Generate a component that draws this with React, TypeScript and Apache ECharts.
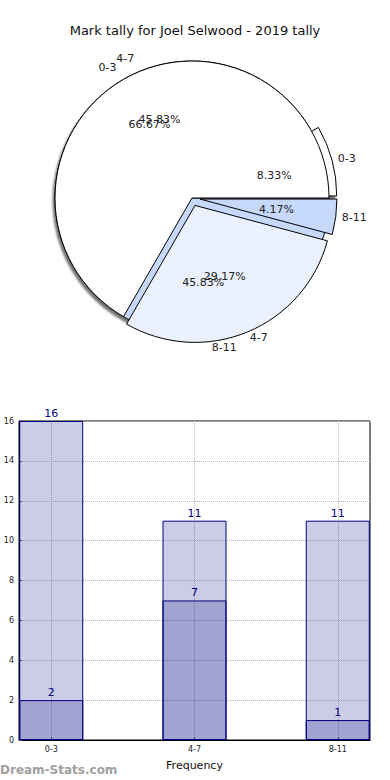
import React, { useEffect, useRef } from "react";
import * as echarts from "echarts";

const titleText = "Mark tally for Joel Selwood - 2019 tally";
const categories = ["0-3", "4-7", "8-11"];
const pieA = [16, 7, 1];
const pieB = [2, 11, 11];
const totalMarks = [16, 11, 11];
const subMarks = [2, 7, 1];
const yTicks = [0, 2, 4, 6, 8, 10, 12, 14, 16];

const FONT = "DejaVu Sans";
const PIE_C = [192, 198];
const R = 137;

export default function App() {
  const ref = useRef<HTMLDivElement>(null);
  useEffect(() => {
    const chart = echarts.init(ref.current!, null, { renderer: "svg" });
    const sumA = pieA.reduce((a, b) => a + b, 0);
    const sumB = pieB.reduce((a, b) => a + b, 0);
    const pct = (v: number, s: number) => ((v / s) * 100).toFixed(2) + "%";

    const colorsA = ["#ffffff", "#eaf1fd", "#c6d9fb"];
    const colorsB = ["#ffffff", "#ffffff", "#c6d9fb"];
    const explodeA = [false, true, true];
    const explodeB = [true, false, false];

    const sectorStyle = (c: string, shadow: boolean) => ({
      color: c,
      borderColor: "#000000",
      borderWidth: 1,
      ...(shadow
        ? { shadowColor: "rgba(0,0,0,0.55)", shadowBlur: 2, shadowOffsetX: -2, shadowOffsetY: 3 }
        : {}),
    });

    const pieSectors = (vals: number[], colors: string[], explode: boolean[], shadow: boolean) => ({
      type: "pie",
      center: PIE_C,
      radius: [0, R],
      startAngle: 0,
      clockwise: false,
      selectedMode: "multiple",
      selectedOffset: 8,
      avoidLabelOverlap: false,
      silent: true,
      label: { show: false },
      labelLine: { show: false },
      emphasis: { disabled: true },
      data: vals.map((v, i) => ({
        name: categories[i],
        value: v,
        selected: explode[i],
        itemStyle: sectorStyle(colors[i], shadow),
        select: { itemStyle: sectorStyle(colors[i], shadow) },
      })),
    });

    const transparent = { color: "rgba(0,0,0,0)", borderWidth: 0 };
    const nameLabels = (vals: number[]) => ({
      type: "pie",
      center: PIE_C,
      radius: [0, R],
      startAngle: 0,
      clockwise: false,
      silent: true,
      avoidLabelOverlap: false,
      labelLayout: { hideOverlap: false },
      itemStyle: transparent,
      emphasis: { disabled: true },
      label: {
        show: true,
        position: "outside",
        formatter: "{b}",
        fontFamily: FONT,
        fontSize: 11,
        color: "#222222",
        distanceToLabelLine: 0,
      },
      labelLine: { show: false, length: 14, length2: 0 },
      data: vals.map((v, i) => ({ name: categories[i], value: v })),
    });
    const pctLabels = (vals: number[], sum: number) => ({
      type: "pie",
      center: PIE_C,
      radius: [0, R * 1.2],
      startAngle: 0,
      clockwise: false,
      silent: true,
      avoidLabelOverlap: false,
      labelLayout: { hideOverlap: false },
      itemStyle: transparent,
      emphasis: { disabled: true },
      label: {
        show: true,
        position: "inside",
        formatter: (p: any) => pct(p.value, sum),
        fontFamily: FONT,
        fontSize: 11,
        color: "#222222",
      },
      labelLine: { show: false },
      data: vals.map((v, i) => ({ name: categories[i], value: v })),
    });

    const barLabel = {
      show: true,
      position: "top",
      distance: 2,
      color: "#000080",
      fontFamily: FONT,
      fontSize: 11,
      formatter: (p: any) => String(p.value[1]),
    };

    chart.setOption({
      animation: false,
      title: {
        text: titleText,
        left: "center",
        top: 19,
        textStyle: { fontFamily: FONT, fontSize: 13, fontWeight: "normal", color: "#111111" },
      },
      grid: {
        left: 19,
        right: 20,
        top: 421,
        bottom: 40,
        show: true,
        borderColor: "#000000",
        borderWidth: 1,
        backgroundColor: "transparent",
      },
      xAxis: {
        type: "value",
        min: -0.225,
        max: 2.225,
        name: "Frequency",
        nameLocation: "middle",
        nameGap: 20,
        nameTextStyle: { fontFamily: FONT, fontSize: 11, color: "#111111" },
        axisLine: { show: true, onZero: false, lineStyle: { color: "#000000", width: 1 } },
        axisTick: {
          show: true,
          inside: true,
          length: 3,
          customValues: [0, 1, 2],
          lineStyle: { color: "#555555" },
        },
        axisLabel: {
          customValues: [0, 1, 2],
          formatter: (v: number) => categories[Math.round(v)] ?? "",
          fontFamily: FONT,
          fontSize: 8,
          color: "#222222",
          margin: 5,
        },
        splitLine: {
          show: true,
          lineStyle: { type: "dotted", color: "#b8b8b8", width: 1 },
        },
      },
      yAxis: {
        type: "value",
        min: 0,
        max: 16,
        interval: 2,
        axisLine: { show: true, onZero: false, lineStyle: { color: "#000000", width: 1 } },
        axisTick: { show: true, inside: true, length: 3, lineStyle: { color: "#555555" } },
        axisLabel: {
          fontFamily: FONT,
          fontSize: 8,
          color: "#222222",
          margin: 5,
          formatter: (v: number) => (yTicks.includes(v) ? String(v) : ""),
        },
        splitLine: { show: true, lineStyle: { type: "dotted", color: "#b8b8b8", width: 1 } },
      },
      series: [
        pieSectors(pieB, colorsB, explodeB, true),
        pieSectors(pieA, colorsA, explodeA, false),
        nameLabels(pieA),
        nameLabels(pieB),
        pctLabels(pieA, sumA),
        pctLabels(pieB, sumB),
        {
          type: "bar",
          barWidth: 64,
          barGap: "-100%",
          silent: true,
          itemStyle: { color: "rgba(0,0,128,0.2)", borderColor: "#000080", borderWidth: 1 },
          label: barLabel,
          data: totalMarks.map((v, i) => [i, v]),
        },
        {
          type: "bar",
          barWidth: 64,
          barGap: "-100%",
          silent: true,
          itemStyle: { color: "rgba(0,0,128,0.2)", borderColor: "#000080", borderWidth: 1 },
          label: barLabel,
          data: subMarks.map((v, i) => [i, v]),
        },
      ],
      graphic: [
        {
          type: "text",
          left: 0,
          top: 764,
          style: {
            text: "Dream-Stats.com",
            fontFamily: FONT,
            fontSize: 12,
            fontWeight: "bold",
            fill: "#a0a0a0",
          },
        },
      ],
    });
    return () => chart.dispose();
  }, []);
  return (
    <div
      ref={ref}
      style={{ position: "fixed", left: 0, top: 0, width: 390, height: 780, background: "#ffffff" }}
    />
  );
}
